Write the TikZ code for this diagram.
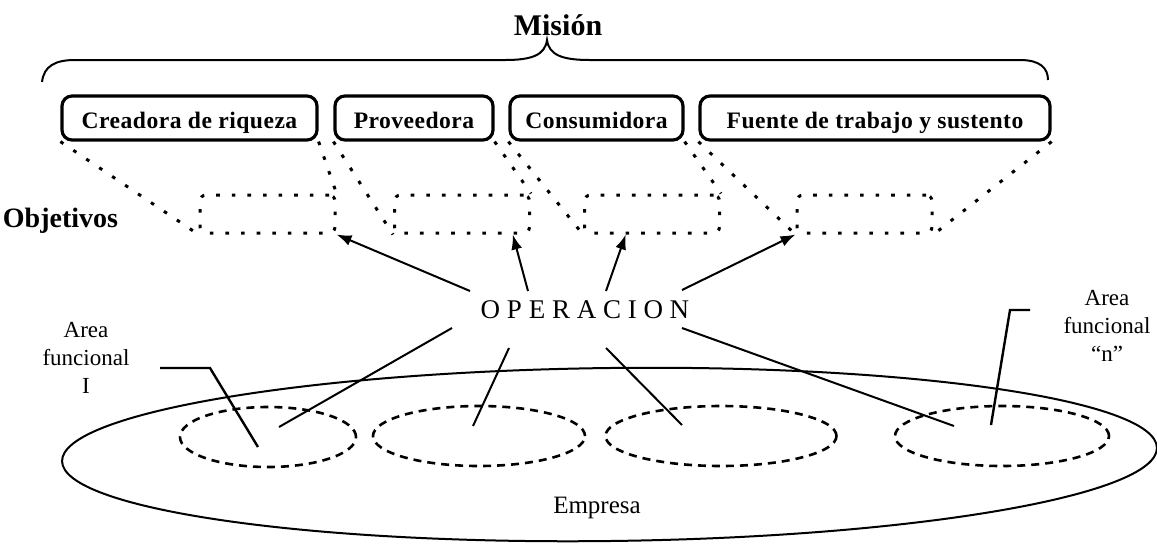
\documentclass[tikz,border=0pt]{standalone}
\usepackage{fontspec}
\setmainfont{Liberation Serif}
\usetikzlibrary{arrows.meta,shapes.geometric}

\begin{document}
\begin{tikzpicture}[x=0.5pt,y=-0.5pt,
    caja/.style={draw,line width=1.6pt,rounded corners=5pt,minimum height=22pt,inner sep=0pt,
      text height=10.5pt,text depth=0.5pt,
      font=\fontsize{11.8}{13}\selectfont\bfseries\addfontfeatures{LetterSpace=2}},
    objetivo/.style={draw,line width=1.5pt,dash pattern=on 1.8pt off 6pt,rounded corners=3pt,
      minimum width=67.5pt,minimum height=19pt,inner sep=0pt},
    enlace/.style={line width=1.5pt,dash pattern=on 1.8pt off 6pt},
    area/.style={draw,ellipse,line width=1.3pt,dash pattern=on 4pt off 3pt,inner sep=0pt,minimum height=30pt},
    flecha/.style={line width=1pt,-{Latex[length=7.5pt,width=5.5pt]}},
    linea/.style={line width=1pt},
    etiqueta/.style={align=center,font=\fontsize{11.5}{14}\selectfont}]
      \useasboundingbox (0,0) rectangle (1157,543);
      \node[font=\fontsize{15}{18}\selectfont\bfseries,anchor=base] (mision) at (558,35) {Misión};
      \draw[line width=1pt] (42,82) .. controls (44,66) and (55,60) .. (75,60) -- (505,60)
        .. controls (532,60) and (545,55) .. (547,40) .. controls (549,55) and (562,60) .. (590,60)
        -- (1020,60) .. controls (1040,60) and (1048,68) .. (1048,80);
      \node[caja,minimum width=127.5pt] (creadora) at (189.5,118) {Creadora de riqueza};
      \node[caja,minimum width=79pt] (proveedora) at (414,118) {Proveedora};
      \node[caja,minimum width=86.5pt] (consumidora) at (596.5,118) {Consumidora};
      \node[caja,minimum width=175pt] (fuente) at (875,118) {Fuente de trabajo y sustento};
      \node[font=\fontsize{14}{17}\selectfont\bfseries,anchor=base] (objetivos) at (60.5,227) {Objetivos};
      \node[objetivo] (obj1) at (267.5,214) {};
      \node[objetivo] (obj2) at (462,214) {};
      \node[objetivo] (obj3) at (652,214) {};
      \node[objetivo] (obj4) at (864.5,214) {};
      \draw[enlace] (creadora.south west) -- (obj1.south west);
      \draw[enlace] (creadora.south east) -- (obj1.north east);
      \draw[enlace] (proveedora.south west) -- (obj2.south west);
      \draw[enlace] (proveedora.south east) -- (obj2.north east);
      \draw[enlace] (consumidora.south west) -- (obj3.south west);
      \draw[enlace] (consumidora.south east) -- (obj3.north east);
      \draw[enlace] (fuente.south west) -- (obj4.south west);
      \draw[enlace] (fuente.south east) -- (obj4.south east);
      \node[font=\fontsize{13.5}{16}\selectfont,anchor=base] (operacion) at (585,318) {O P E R A C I O N};
      \coordinate (op1) at (470,291);
      \coordinate (op2) at (528,291);
      \coordinate (op3) at (606,291);
      \coordinate (op4) at (682,290);
      \draw[flecha] (op1) -- (obj1.south east);
      \draw[flecha] (op2) -- (obj2.-22);
      \draw[flecha] (op3) -- (obj3.-142);
      \draw[flecha] (op4) -- (obj4.south west);
      \node[draw,ellipse,line width=1pt,minimum width=547.5pt,minimum height=86.5pt,inner sep=0pt,rotate=0.7] (empresa) at (609.5,454.5) {};
      \node[font=\fontsize{12.5}{15}\selectfont,anchor=base] (empresalbl) at (597,513) {Empresa};
      \node[area,minimum width=88pt] (area1) at (268,437) {};
      \node[area,minimum width=106pt] (area2) at (479,436) {};
      \node[area,minimum width=115.5pt] (area3) at (721,436) {};
      \node[area,minimum width=107pt] (area4) at (1002,436) {};
      \coordinate (dn1) at (452,328);
      \coordinate (dn2) at (509,348);
      \coordinate (dn3) at (606,348);
      \coordinate (dn4) at (682,328);
      \coordinate (fin1) at (279,427);
      \coordinate (fin2) at (473,426);
      \coordinate (fin3) at (682,425);
      \coordinate (fin4) at (954,426);
      \foreach \i in {1,...,4}
        \draw[linea] (dn\i) -- (fin\i);
      \node[etiqueta] (area1lbl) at (86,358) {Area\\funcional\\I};
      \node[etiqueta] (arealbl) at (1107,326) {Area\\funcional\\``n''};
      \coordinate (g1) at (160,368);
      \coordinate (p1) at (258,447);
      \coordinate (g2) at (1030,310);
      \coordinate (p2) at (991,425);
      \draw[line width=1.2pt] (g1) -- (210,368) -- (p1);
      \draw[line width=1.2pt] (g2) -- (1010,310) -- (p2);
    \end{tikzpicture}
\end{document}
